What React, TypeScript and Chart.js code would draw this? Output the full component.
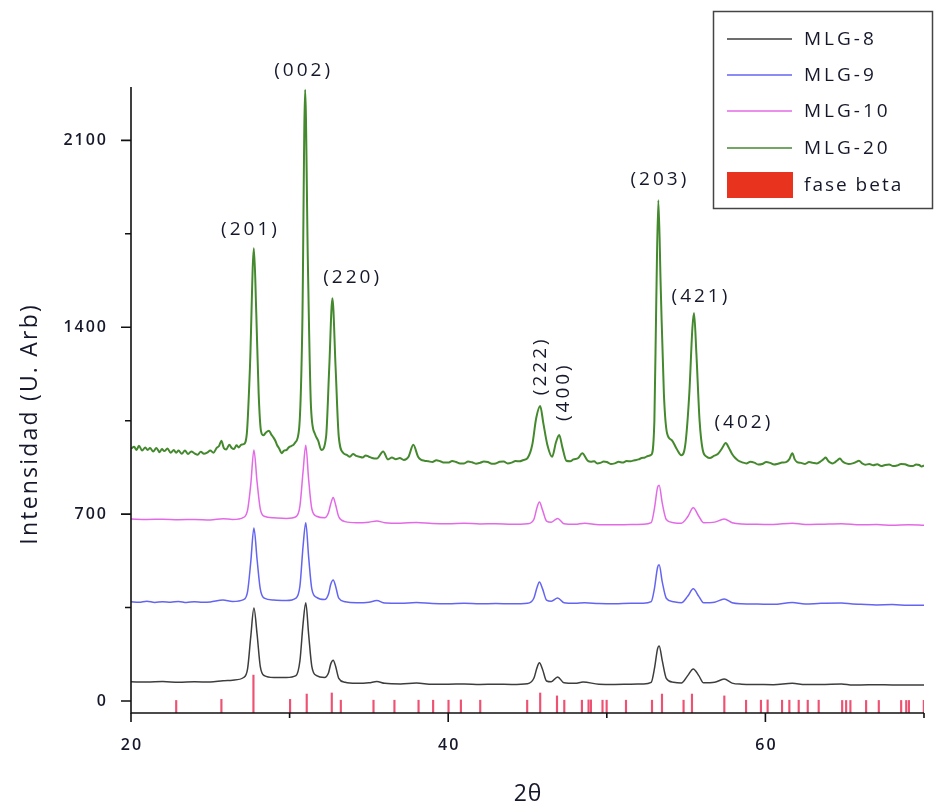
import { useEffect, useRef } from 'react';
import { Chart, registerables } from 'chart.js';
Chart.register(...registerables);

type P = [number, number];

// ---- series: [2θ, intensity] ----
const mlg8: P[] = [
  [20, 72], [21, 71], [22, 73], [23, 70], [24, 72], [25, 71], [25.8, 76], [26.4, 78], [27.1, 88], [27.35, 120],
  [27.55, 240], [27.75, 348], [27.95, 250], [28.15, 130], [28.4, 95], [29, 88], [29.8, 88], [30.4, 95], [30.65, 150],
  [30.85, 290], [31.02, 368], [31.2, 250], [31.4, 130], [31.7, 95], [32.2, 88], [32.45, 105], [32.6, 140], [32.75, 153],
  [32.9, 130], [33.1, 85], [33.5, 70], [34.2, 66], [35, 68], [35.5, 73], [36, 66], [37, 64], [38, 67], [39, 63], [40, 63],
  [41, 64], [42, 62], [43, 63], [44, 62], [45, 65], [45.4, 85], [45.6, 125], [45.75, 143], [45.95, 118], [46.2, 75],
  [46.5, 72], [46.9, 90], [47.3, 68], [48, 66], [48.5, 71], [49.5, 63], [50.5, 62], [51.5, 63], [52.3, 64], [52.8, 70],
  [53.0, 120], [53.2, 195], [53.3, 206], [53.5, 150], [53.75, 85], [54.2, 70], [54.7, 67], [55.1, 95], [55.45, 120],
  [55.8, 95], [56.1, 68], [56.8, 70], [57.4, 82], [57.9, 67], [58.5, 63], [59.5, 62], [60.5, 61], [61.7, 66], [62.5, 62],
  [63.5, 62], [64.8, 64], [65.5, 60], [66, 60], [67, 61], [68, 60], [69, 60], [70, 60],
];

const mlg9: P[] = [
  [20, 372], [20.5, 370], [21, 374], [21.5, 369], [22, 372], [22.5, 370], [23, 373], [23.5, 369], [24, 372], [24.5, 370],
  [25, 371], [25.8, 378], [26.4, 373], [27.1, 380], [27.35, 410], [27.55, 520], [27.75, 648], [27.95, 530], [28.15, 420],
  [28.4, 385], [29, 378], [29.8, 376], [30.4, 385], [30.65, 430], [30.85, 580], [31.02, 668], [31.2, 540], [31.4, 420],
  [31.7, 388], [32.2, 380], [32.45, 400], [32.6, 438], [32.75, 453], [32.9, 430], [33.1, 385], [33.5, 372], [34.2, 368],
  [35, 370], [35.5, 376], [36, 367], [37, 366], [38, 369], [39, 365], [40, 364], [41, 366], [42, 364], [43, 365], [44, 364],
  [45, 366], [45.4, 385], [45.6, 425], [45.75, 446], [45.95, 420], [46.2, 378], [46.5, 374], [46.9, 386], [47.3, 368],
  [48, 366], [48.6, 368], [49.5, 365], [50.5, 364], [51.5, 366], [52.3, 366], [52.8, 372], [53.0, 420], [53.2, 500],
  [53.3, 510], [53.5, 445], [53.75, 385], [54.2, 372], [54.7, 368], [55.1, 392], [55.45, 420], [55.8, 392], [56.1, 368],
  [56.8, 370], [57.4, 382], [57.9, 368], [58.5, 364], [59.5, 363], [60.5, 362], [61.7, 369], [62.5, 363], [63.5, 366],
  [64.8, 367], [65.5, 363], [66, 362], [67, 360], [68, 361], [69, 359], [70, 359],
];

const mlg10: P[] = [
  [20, 682], [21, 680], [22, 681], [23, 679], [24, 680], [25, 678], [25.8, 683], [26.4, 680], [27.1, 688], [27.35, 715],
  [27.55, 810], [27.75, 940], [27.95, 820], [28.15, 720], [28.4, 692], [29, 686], [29.8, 684], [30.4, 690], [30.65, 730],
  [30.85, 860], [31.02, 958], [31.2, 830], [31.4, 720], [31.7, 692], [32.2, 686], [32.45, 705], [32.6, 740], [32.75, 762],
  [32.9, 735], [33.1, 690], [33.5, 672], [34.2, 668], [35, 670], [35.5, 674], [36, 668], [37, 666], [38, 669], [39, 665],
  [40, 664], [41, 666], [42, 663], [43, 664], [44, 662], [45, 664], [45.4, 680], [45.6, 725], [45.75, 745], [45.95, 715],
  [46.2, 674], [46.5, 670], [46.9, 684], [47.3, 664], [48, 662], [48.6, 666], [49.5, 660], [50.5, 660], [51.5, 661],
  [52.3, 662], [52.8, 668], [53.0, 720], [53.2, 800], [53.3, 808], [53.5, 740], [53.75, 680], [54.2, 668], [54.7, 666],
  [55.1, 690], [55.45, 724], [55.8, 692], [56.1, 668], [56.8, 670], [57.4, 682], [57.9, 668], [58.5, 663], [59.5, 662],
  [60.5, 661], [61.7, 666], [62.5, 661], [63.5, 662], [64.8, 664], [66, 660], [67, 661], [68, 658], [69, 660], [70, 658],
];

const mlg20: P[] = [
  [20, 945], [20.2, 952], [20.35, 940], [20.5, 956], [20.7, 938], [20.9, 950], [21.05, 940], [21.2, 948], [21.4, 935],
  [21.6, 948], [21.8, 932], [21.95, 944], [22.1, 936], [22.3, 946], [22.5, 930], [22.7, 940], [22.85, 930], [23.0, 938],
  [23.2, 926], [23.4, 938], [23.6, 925], [23.8, 935], [24.0, 928], [24.2, 922], [24.4, 934], [24.6, 926], [24.8, 930],
  [25.0, 938], [25.2, 930], [25.4, 948], [25.55, 955], [25.7, 975], [25.85, 948], [26.0, 942], [26.2, 960], [26.35, 948],
  [26.5, 944], [26.65, 958], [26.8, 950], [26.95, 960], [27.1, 962], [27.3, 1000], [27.5, 1250],
  [27.75, 1696], [27.9, 1450], [28.05, 1150], [28.2, 1010], [28.35, 995], [28.5, 1005], [28.7, 1012], [28.85, 998],
  [28.95, 990], [29.1, 975], [29.2, 960], [29.35, 945], [29.5, 928], [29.65, 938], [29.8, 940], [29.95, 950],
  [30.1, 955], [30.25, 960], [30.35, 968], [30.6, 1020], [30.8, 1400], [30.98, 2290], [31.15, 1650],
  [31.35, 1100], [31.6, 1000], [31.8, 975], [32.0, 940], [32.3, 990], [32.5, 1250], [32.7, 1509], [32.9, 1250],
  [33.1, 990], [33.4, 928], [33.6, 922], [33.8, 915], [34.0, 925], [34.2, 918], [34.4, 915], [34.6, 912], [34.8, 920],
  [35.0, 915], [35.2, 910], [35.5, 908], [35.9, 935], [36.2, 905], [36.45, 912], [36.7, 906], [36.95, 910], [37.2, 903],
  [37.5, 915], [37.8, 960], [38.1, 915], [38.3, 903], [38.5, 900], [38.75, 898], [39.0, 895], [39.25, 902], [39.5, 898],
  [39.75, 893], [40.0, 893], [40.25, 899], [40.5, 895], [40.75, 890], [41.0, 890], [41.25, 897], [41.5, 894],
  [41.75, 889], [42.0, 892], [42.25, 897], [42.5, 895], [42.75, 889], [43.0, 890], [43.25, 896], [43.5, 897],
  [43.75, 890], [44.0, 893], [44.25, 899], [44.5, 898], [44.75, 903], [45.0, 910], [45.3, 960], [45.55, 1060],
  [45.8, 1105], [46.0, 1040], [46.25, 960], [46.55, 915], [46.8, 970], [47.0, 996], [47.2, 950], [47.45, 900],
  [47.7, 898], [47.9, 905], [48.2, 910], [48.45, 928], [48.8, 900], [49.0, 896], [49.2, 898], [49.4, 890], [49.6, 892],
  [49.8, 897], [50.0, 895], [50.25, 888], [50.5, 890], [50.75, 896], [51.0, 893], [51.25, 899], [51.5, 898],
  [51.75, 902], [52.0, 905], [52.2, 910], [52.4, 912], [52.6, 918], [52.8, 922], [53.0, 1050], [53.12, 1500],
  [53.25, 1876], [53.4, 1550], [53.6, 1150], [53.8, 1003], [54.1, 977], [54.4, 945], [54.7, 921], [54.95, 960],
  [55.2, 1150], [55.4, 1400], [55.5, 1453], [55.65, 1300], [55.85, 1050], [56.05, 940], [56.3, 915], [56.5, 910],
  [56.75, 918], [57.0, 925], [57.25, 945], [57.5, 966], [57.7, 948], [57.9, 925], [58.1, 910], [58.3, 900], [58.55, 894],
  [58.8, 890], [59.05, 896], [59.3, 893], [59.55, 886], [59.8, 888], [60.05, 895], [60.3, 892], [60.55, 886],
  [60.8, 889], [61.05, 893], [61.3, 895], [61.5, 905], [61.7, 928], [61.85, 905], [62.0, 895], [62.25, 892], [62.5, 888],
  [62.75, 895], [63.0, 892], [63.25, 890], [63.5, 898], [63.65, 905], [63.8, 912], [63.95, 900], [64.1, 893], [64.25, 890],
  [64.4, 895], [64.55, 902], [64.7, 908], [64.85, 898], [65.0, 892], [65.25, 888], [65.5, 890], [65.7, 895], [65.9, 900],
  [66.1, 890], [66.3, 885], [66.55, 888], [66.8, 883], [67.05, 887], [67.3, 880], [67.55, 884], [67.8, 886], [68.05, 880],
  [68.3, 882], [68.55, 888], [68.8, 887], [69.05, 881], [69.3, 880], [69.5, 886], [69.7, 884], [69.85, 878], [70.0, 882],
];

// reference pattern (fase beta): [2θ, top of the stick]
const faseBeta: P[] = [
  [22.85, 2], [25.7, 6], [27.72, 97], [30.03, 6], [31.08, 26], [32.66, 30], [33.23, 3], [35.29, 3], [36.61, 3],
  [38.13, 3], [39.05, 3], [40.02, 3], [40.8, 4], [42.02, 3], [44.98, 3], [45.8, 30], [46.86, 19], [47.32, 3],
  [48.43, 3], [48.85, 4], [49.0, 4], [49.73, 3], [49.99, 3], [51.21, 3], [52.85, 3], [53.48, 26], [54.84, 3],
  [55.37, 26], [57.41, 19], [58.78, 3], [59.72, 3], [60.14, 4], [61.05, 3], [61.51, 3], [62.1, 3], [62.67, 3],
  [63.36, 3], [64.84, 2], [65.09, 2], [65.36, 2], [66.35, 2], [67.15, 2], [68.56, 2], [68.88, 2], [69.05, 2], [69.99, 2],
];

const xMajorTicks = [20, 40, 60];
const xMinorTicks = [30, 50, 70];
const yMajorTicks = [0, 700, 1400, 2100];
const yMinorTicks = [350, 1050, 1750];

const peakLabels: { text: string; x: number; y: number; vertical: boolean }[] = [
  { text: '(201)', x: 27.44, y: 1767, vertical: false },
  { text: '(002)', x: 30.79, y: 2362, vertical: false },
  { text: '(220)', x: 33.88, y: 1587, vertical: false },
  { text: '(222)', x: 45.8, y: 1250, vertical: true },
  { text: '(400)', x: 47.3, y: 1153, vertical: true },
  { text: '(203)', x: 53.25, y: 1954, vertical: false },
  { text: '(421)', x: 55.84, y: 1516, vertical: false },
  { text: '(402)', x: 58.55, y: 1041, vertical: false },
];

const seriesNames = ['MLG-8', 'MLG-9', 'MLG-10', 'MLG-20'];
const seriesColors = ['#3d3d3d', '#6464f2', '#e36ae6', '#44892e'];
const betaName = 'fase beta';
const betaColor = '#ee5273';
const betaLegendColor = '#e8341f';

const X_MIN = 20, X_MAX = 70, Y_MIN = -45, Y_MAX = 2300;
const FONT = '"Open Sans", Lato, sans-serif';
const TEXT = '#15182a';

function spaced(ctx: CanvasRenderingContext2D, text: string, x: number, y: number, sp: number, align: 'left' | 'center' | 'right') {
  (ctx as any).letterSpacing = sp + 'px';
  ctx.textAlign = 'left';
  const w = ctx.measureText(text).width - sp;
  const sx = align === 'center' ? x - w / 2 : align === 'right' ? x - w : x;
  ctx.fillText(text, sx, y);
  (ctx as any).letterSpacing = '0px';
}

const decor = {
  id: 'decor',
  afterDraw(chart: any) {
    const { ctx, chartArea: a } = chart;
    const xs = chart.scales.x, ys = chart.scales.y;
    ctx.save();
    // axes
    ctx.strokeStyle = '#111';
    ctx.lineWidth = 1.6;
    ctx.beginPath();
    ctx.moveTo(a.left, a.top);
    ctx.lineTo(a.left, a.bottom);
    ctx.lineTo(a.right, a.bottom);
    ctx.stroke();
    ctx.beginPath();
    for (const v of xMajorTicks) { const p = xs.getPixelForValue(v); ctx.moveTo(p, a.bottom); ctx.lineTo(p, a.bottom + 9); }
    for (const v of xMinorTicks) { const p = xs.getPixelForValue(v); ctx.moveTo(p, a.bottom); ctx.lineTo(p, a.bottom + 5); }
    for (const v of yMajorTicks) { const p = ys.getPixelForValue(v); ctx.moveTo(a.left, p); ctx.lineTo(a.left - 10, p); }
    for (const v of yMinorTicks) { const p = ys.getPixelForValue(v); ctx.moveTo(a.left, p); ctx.lineTo(a.left - 6, p); }
    ctx.stroke();

    ctx.fillStyle = TEXT;
    ctx.textBaseline = 'middle';
    ctx.font = `600 16px ${FONT}`;
    for (const v of yMajorTicks) spaced(ctx, String(v), 106, ys.getPixelForValue(v), 2, 'right');
    for (const v of xMajorTicks) spaced(ctx, String(v), xs.getPixelForValue(v), a.bottom + 32, 2, 'center');

    ctx.font = `23px ${FONT}`;
    spaced(ctx, '2θ', (a.left + a.right) / 2, 794, 1, 'center');

    ctx.save();
    ctx.translate(30, 425);
    ctx.rotate(-Math.PI / 2);
    ctx.font = `23px ${FONT}`;
    spaced(ctx, 'Intensidad (U. Arb)', 0, 0, 2.2, 'center');
    ctx.restore();

    // peak labels
    ctx.font = `500 19px ${FONT}`;
    for (const l of peakLabels) {
      const px = xs.getPixelForValue(l.x), py = ys.getPixelForValue(l.y);
      if (l.vertical) {
        ctx.save();
        ctx.translate(px, py);
        ctx.rotate(-Math.PI / 2);
        spaced(ctx, l.text, 0, 0, 3, 'center');
        ctx.restore();
      } else {
        spaced(ctx, l.text, px, py, 3, 'center');
      }
    }

    // legend
    ctx.strokeStyle = '#444';
    ctx.lineWidth = 1.5;
    ctx.strokeRect(713.5, 11.5, 219, 197);
    const rows = [39, 75, 111, 148];
    ctx.font = `500 19px ${FONT}`;
    seriesNames.forEach((n, i) => {
      ctx.strokeStyle = seriesColors[i];
      ctx.lineWidth = 1.5;
      ctx.beginPath();
      ctx.moveTo(727, rows[i]);
      ctx.lineTo(792, rows[i]);
      ctx.stroke();
      ctx.fillStyle = TEXT;
      spaced(ctx, n, 804, rows[i] + 1, 3, 'left');
    });
    ctx.fillStyle = betaLegendColor;
    ctx.fillRect(727, 172, 66, 26);
    ctx.fillStyle = TEXT;
    spaced(ctx, betaName, 804, 186, 2, 'left');
    ctx.restore();
  },
};

export default function App() {
  const ref = useRef<HTMLCanvasElement | null>(null);
  useEffect(() => {
    if (!ref.current) return;
    const all = [mlg8, mlg9, mlg10, mlg20];
    const chart = new Chart(ref.current, {
      type: 'line',
      data: {
        datasets: [
          {
            type: 'bar',
            label: betaName,
            data: faseBeta.map(([x, t]) => ({ x, y: [Y_MIN, t] })) as any,
            backgroundColor: betaColor,
            barThickness: 1.5,
            grouped: false,
            order: 5,
          } as any,
          ...all.map((s, i) => ({
            type: 'line' as const,
            label: seriesNames[i],
            data: s.map(([x, y]) => ({ x, y })),
            borderColor: seriesColors[i],
            borderWidth: i === 3 ? 2 : 1.5,
            pointRadius: 0,
            cubicInterpolationMode: 'monotone' as const,
            fill: false,
            order: 4 - i,
          })),
        ],
      },
      options: {
        responsive: false,
        animation: false,
        devicePixelRatio: 1,
        layout: { padding: { left: 131, right: 11, top: 87, bottom: 95 } },
        scales: {
          x: { type: 'linear', min: X_MIN, max: X_MAX, offset: false, display: false },
          y: { type: 'linear', min: Y_MIN, max: Y_MAX, display: false },
        },
        plugins: { legend: { display: false }, tooltip: { enabled: false } },
      },
      plugins: [decor],
    });
    return () => chart.destroy();
  }, []);
  return (
    <div style={{ position: 'absolute', left: 0, top: 0, width: 935, height: 808, background: '#fff' }}>
      <canvas ref={ref} width={935} height={808} style={{ display: 'block' }} />
    </div>
  );
}
